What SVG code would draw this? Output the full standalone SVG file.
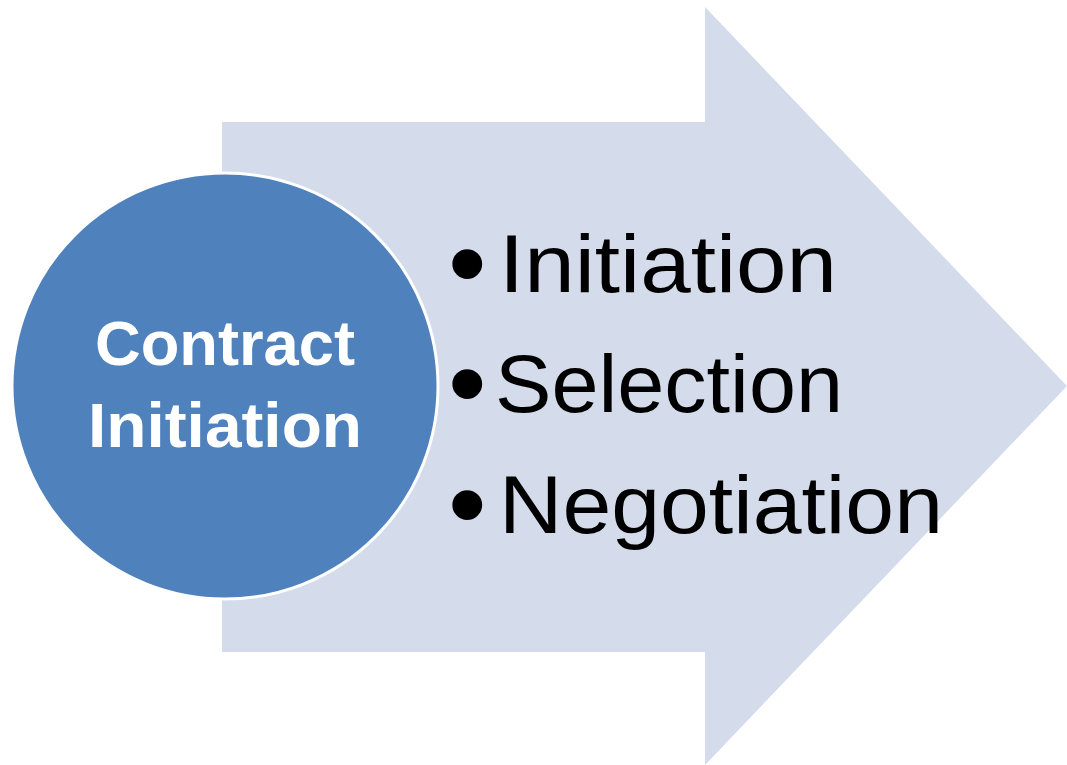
<svg xmlns="http://www.w3.org/2000/svg" width="1067" height="765" viewBox="0 0 1067 765">
<style>
.arrow{fill:#D4DBEA;}
.circ{fill:#4F81BD;stroke:#FFFFFF;stroke-width:3;}
.ctext{font-family:"Liberation Sans",Arial,sans-serif;font-weight:bold;font-size:63px;fill:#FFFFFF;}
.btext{font-family:"Liberation Sans",Arial,sans-serif;font-size:82px;fill:#000000;}
.bul{font-family:"Liberation Sans",Arial,sans-serif;font-size:110px;fill:#000000;}
</style>
<rect width="1067" height="765" fill="#FFFFFF"/>
<g id="arrow">
<polygon class="arrow" points="222,122 705,122 705,7 1067,386 705,765 705,652 222,652"/>
</g>
<g id="items">
<text class="bul" x="448" y="300">•</text>
<text class="btext" x="499" y="292" textLength="338" lengthAdjust="spacingAndGlyphs">Initiation</text>
<text class="bul" x="448" y="420">•</text>
<text class="btext" x="495" y="412" textLength="348" lengthAdjust="spacingAndGlyphs">Selection</text>
<text class="bul" x="448" y="541">•</text>
<text class="btext" x="499" y="533" textLength="444" lengthAdjust="spacingAndGlyphs">Negotiation</text>
</g>
<g id="circle">
<circle class="circ" cx="225" cy="386" r="213"/>
<text class="ctext" x="95" y="365" textLength="260" lengthAdjust="spacingAndGlyphs">Contract</text>
<text class="ctext" x="88" y="447" textLength="274" lengthAdjust="spacingAndGlyphs">Initiation</text>
</g>
</svg>
